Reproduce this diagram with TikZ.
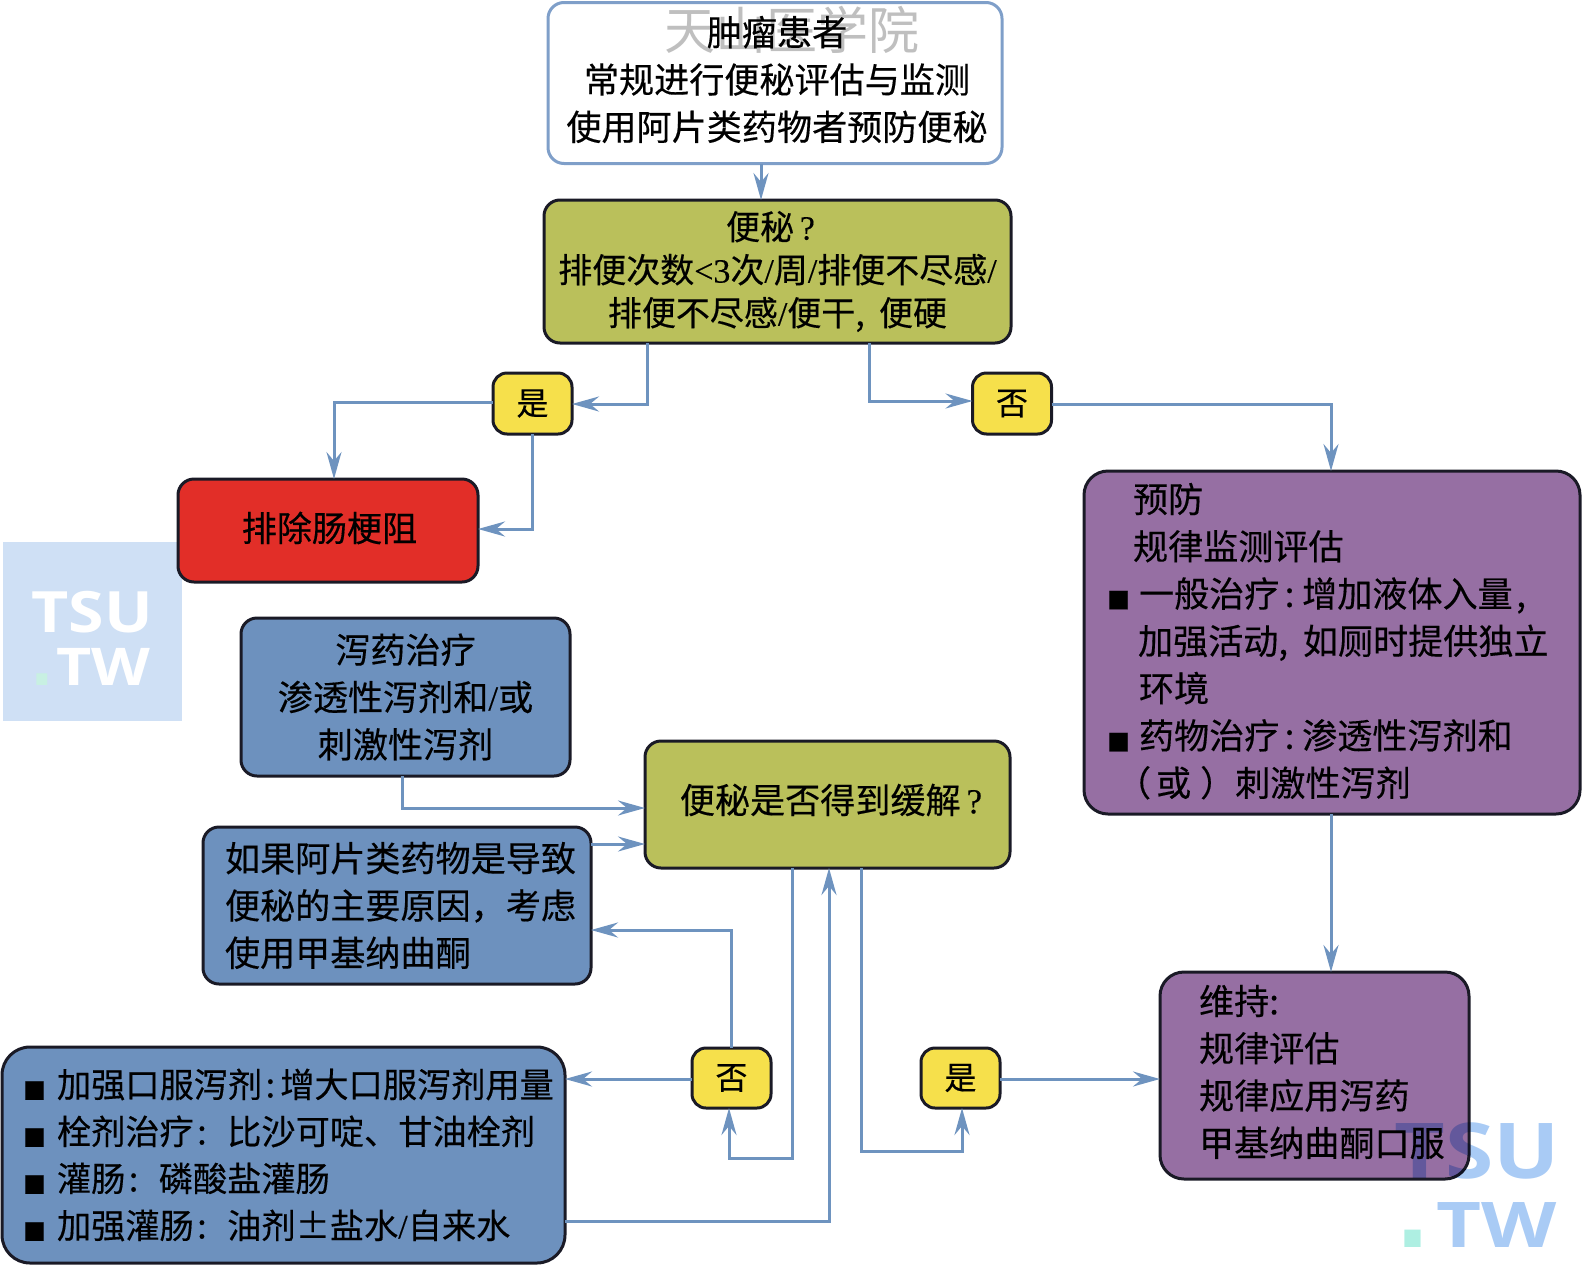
\documentclass[tikz,border=0pt]{standalone}
\usepackage{fontspec}
\usepackage{graphicx}
\setmainfont[FakeBold=0.35]{Noto Sans CJK SC}
\newfontfamily\plaincjk{Noto Sans CJK SC}
\newfontfamily\ltn[FakeBold=0.2]{Liberation Serif}
\newfontfamily\wmfont{Open Sans}
\newfontfamily\dotfont{DejaVu Sans}
\usetikzlibrary{arrows.meta}
\definecolor{linec}{HTML}{6E93BF}
\definecolor{dark}{HTML}{1A1A26}
\definecolor{olive}{HTML}{BAC05B}
\definecolor{bluebox}{HTML}{6D91BE}
\definecolor{purp}{HTML}{966FA3}
\definecolor{redb}{HTML}{E22E28}
\definecolor{yell}{HTML}{F6E04B}
\definecolor{topline}{HTML}{7F9FC9}
\definecolor{wmbg}{HTML}{CFE0F5}
\definecolor{wmblue}{HTML}{A9CBF5}
\definecolor{wmdotl}{HTML}{C8F0E2}
\definecolor{wmdotr}{HTML}{AEEFE2}
\newcommand{\ftf}{\fontsize{35.1}{47.3}\selectfont}
\newcommand{\fgr}{\fontsize{34}{43}\selectfont}
\newcommand{\fbt}{\fontsize{34.2}{47}\selectfont}
\newcommand{\blt}[1]{\makebox[#1][l]{\raisebox{-2pt}{\fontsize{23}{23}\selectfont ■}}}
\newcommand{\cln}{\hspace{.15em}:\hspace{.22em}}
\newcommand{\cnr}{\hspace{.1em}:\hspace{.15em}}
\newcommand{\clw}{\hspace{.1em}:\hspace{.6em}}
\newcommand{\cma}{,\hspace{.42em}}
\newcommand{\ind}[1]{\hspace*{#1}}
\newcommand{\txtup}[1]{\rule[\dimexpr-4pt-2pt*#1\relax]{0pt}{0pt}}
\tikzset{
 boxn/.style={draw=dark,line width=3pt,rounded corners=16pt,inner sep=0pt,outer sep=0pt,align=center,text=black,font=\ftf},
 wide/.style={minimum width=#1},
 high/.style={minimum height=#1},
 lefttext/.style={align=left,text width=#1},
 yn/.style={boxn,fill=yell,minimum width=79pt,minimum height=61pt,rounded corners=14pt,font=\fontsize{32}{38}\selectfont},
 arr/.style={draw=linec,line width=3pt,line join=miter,-{Stealth[length=27pt,width=15pt,inset=9pt,fill=linec]}},
 wmk/.style={inner sep=0pt,outer sep=0pt,text=wmblue,font=\wmfont\bfseries},
}
\begin{document}
\begin{tikzpicture}[x=1pt,y=-1pt]
\useasboundingbox (0,0) rectangle (1582,1264);
% left watermark tile
\fill[wmbg] (3,542) rectangle (182,721);
\node[inner sep=0pt,text=white,font=\wmfont\bfseries\fontsize{57}{57}\selectfont] (wl1) at (92,612) {\scalebox{1.13}[1]{TSU}};
\node[inner sep=0pt,text=white,font=\wmfont\bfseries\fontsize{52}{52}\selectfont,anchor=base east] (wl2) at (151,685) {\textcolor{wmdotl}{\dotfont\bfseries\fontsize{62}{62}\selectfont .}\hspace{3pt}\scalebox{1.17}[1]{TW}};
% boxes
\node[boxn,draw=topline,fill=white,wide=454pt,high=161pt] (top) at (775,83) {\hspace{4pt}肿瘤患者\\\hspace{4pt}常规进行便秘评估与监测\\\hspace{4pt}使用阿片类药物者预防便秘\txtup{3}};
\node[boxn,fill=olive,wide=467pt,high=143pt,font=\fgr] (g1) at (777.5,271.5) {便秘{\ltn\,?}\hspace*{14pt}\\排便次数{\ltn <3}次{\ltn /}周{\ltn /}排便不尽感{\ltn /}\\排便不尽感{\ltn /}便干\cma 便硬\txtup{1}};
\node[yn] (yes1) at (532.5,403.5) {是};
\node[yn] (no1) at (1012,403.5) {否};
\node[boxn,fill=redb,wide=300pt,high=103pt] (red) at (328,530.5) {\hspace{3pt}排除肠梗阻\txtup{2}};
\node[boxn,fill=purp,wide=496pt,high=343pt,rounded corners=24pt,lefttext=450pt] (p1) at (1332,642.5) {\ind{26pt}预防\\\ind{26pt}规律监测评估\\\blt{32pt}一般治疗\cln 增加液体入量\hspace{.1em},\\\ind{31pt}加强活动\cma 如厕时提供独立\\\ind{32pt}环境\\\blt{32pt}药物治疗\cln 渗透性泻剂和\\\ind{9pt}（\hspace{5pt}或\hspace{9pt}）刺激性泻剂\txtup{1}};
\node[boxn,fill=bluebox,wide=329pt,high=158pt] (lax) at (405.5,697) {泻药治疗\\渗透性泻剂和{\ltn /}或\\刺激性泻剂};
\node[boxn,fill=olive,wide=365pt,high=127pt] (g2) at (827.5,804.5) {\hspace{7pt}便秘是否得到缓解{\ltn\,?}\txtup{4}};
\node[boxn,fill=bluebox,wide=388pt,high=157pt,lefttext=360pt] (op) at (397,905.5) {\ind{8pt}如果阿片类药物是导致\\\ind{8pt}便秘的主要原因，考虑\\\ind{8pt}使用甲基纳曲酮};
\node[boxn,fill=bluebox,wide=563pt,high=216pt,rounded corners=28pt,lefttext=545pt,font=\fbt] (bot) at (283.5,1155) {\ind{12pt}\blt{34pt}加强口服泻剂\cnr 增大口服泻剂用量\\\ind{12pt}\blt{34pt}栓剂治疗\clw 比沙可啶、甘油栓剂\\\ind{12pt}\blt{34pt}灌肠\clw 磷酸盐灌肠\\\ind{12pt}\blt{34pt}加强灌肠\clw 油剂±盐水{\ltn /}自来水};
\node[yn,minimum height=60pt] (no2) at (731.5,1078) {否};
\node[yn,minimum height=60pt] (yes2) at (960.5,1078) {是};
\node[boxn,fill=purp,wide=309pt,high=207pt,rounded corners=24pt,lefttext=261pt] (p2) at (1314.5,1075.5) {\ind{15pt}维持:\\\ind{15pt}规律评估\\\ind{15pt}规律应用泻药\\\ind{15pt}甲基纳曲酮口服\txtup{3}};
% bend points
\coordinate (t1) at (761,0);
\coordinate (c1) at (647,404);
\coordinate (c2) at (869,401);
\coordinate (c3) at (334,402);
\coordinate (c4) at (532,529);
\coordinate (c5) at (1331,404);
\coordinate (c6) at (402,808);
\coordinate (c7) at (0,844);
\coordinate (c8) at (731,930);
\coordinate (c9) at (0,1079);
\coordinate (c10) at (792,1158);
\coordinate (c11) at (729,1158);
\coordinate (c12) at (861,1151);
\coordinate (c13) at (962,1151);
\coordinate (c14) at (829,1221);
% connectors
\draw[arr] (top.south -| t1) -- (g1.north -| t1);
\draw[arr] (g1.south -| c1) -- (c1) -- (yes1.east |- c1);
\draw[arr] (g1.south -| c2) -- (c2) -- (no1.west |- c2);
\draw[arr] (yes1.west |- c3) -- (c3) -- (red.north -| c3);
\draw[arr] (yes1.south -| c4) -- (c4) -- (red.east |- c4);
\draw[arr] (no1.east |- c5) -- (c5) -- (p1.north -| c5);
\draw[arr] (p1.south -| c5) -- (p2.north -| c5);
\draw[arr] (lax.south -| c6) -- (c6) -- (g2.west |- c6);
\draw[arr] (op.east |- c7) -- (g2.west |- c7);
\draw[arr] (no2.north -| c8) -- (c8) -- (op.east |- c8);
\draw[arr] (no2.west |- c9) -- (bot.east |- c9);
\draw[arr] (g2.south -| c10) -- (c10) -- (c11) -- (no2.south -| c11);
\draw[arr] (g2.south -| c12) -- (c12) -- (c13) -- (yes2.south -| c13);
\draw[arr] (bot.east |- c14) -- (c14) -- (g2.south -| c14);
\draw[arr] (yes2.east |- c9) -- (p2.west |- c9);
% overlaid watermarks
\begin{scope}[blend mode=multiply]
\node[inner sep=0pt,text=black!25,font=\plaincjk\fontsize{51}{51}\selectfont] (wm1) at (792,30) {天山医学院};
\node[wmk,font=\wmfont\bfseries\fontsize{77}{77}\selectfont] (wr1) at (1477,1151) {\scalebox{1.14}[1]{TSU}};
\node[wmk,font=\wmfont\bfseries\fontsize{63}{63}\selectfont,anchor=base east] (wr2) at (1557,1247) {\textcolor{wmdotr}{\dotfont\bfseries\fontsize{92}{92}\selectfont .}\hspace{6pt}\scalebox{1.236}[1]{TW}};
\end{scope}
\end{tikzpicture}
\end{document}
